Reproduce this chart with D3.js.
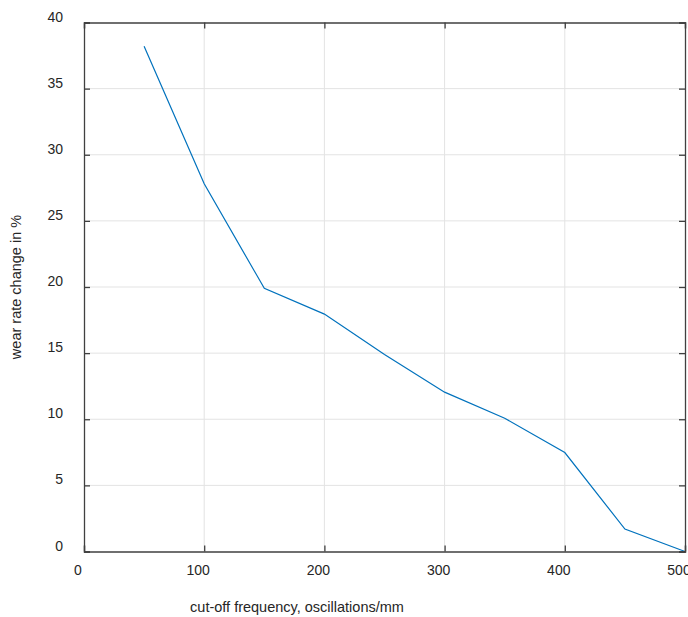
<!DOCTYPE html>
<html>
<head>
<meta charset="utf-8">
<script src="https://cdn.jsdelivr.net/npm/d3@7"></script>
<style>
  body { margin: 0; background: #fff; }
  text { font-family: "Liberation Sans", Arial, sans-serif; fill: #262626; }
</style>
</head>
<body>
<div class="graph"></div>
<script>
var width = 688,
    height = 617;

// data
var frequency = [50, 100, 150, 200, 250, 300, 350, 400, 450, 500];
var wearChange = [38.2, 27.8, 19.9, 17.95, 14.9, 12.05, 10.08, 7.48, 1.7, 0];
var xTicks = [0, 100, 200, 300, 400, 500];
var yTicks = [0, 5, 10, 15, 20, 25, 30, 35, 40];

var plotLeft = 84, plotRight = 685, plotTop = 22.5, plotBottom = 551.5;

var svg = d3.select(".graph").append("svg")
    .attr("width", width)
    .attr("height", height);

var x = d3.scaleLinear().domain([0, 500]).range([plotLeft, plotRight]);
var y = d3.scaleLinear().domain([0, 40]).range([plotBottom, plotTop]);

// grid
svg.append("g").selectAll("line")
    .data(xTicks.slice(1, -1))
    .enter().append("line")
      .attr("x1", function(d) { return x(d); })
      .attr("x2", function(d) { return x(d); })
      .attr("y1", plotTop).attr("y2", plotBottom)
      .attr("stroke", "#e3e3e3").attr("stroke-width", 1);

svg.append("g").selectAll("line")
    .data(yTicks.slice(1, -1))
    .enter().append("line")
      .attr("y1", function(d) { return y(d); })
      .attr("y2", function(d) { return y(d); })
      .attr("x1", plotLeft).attr("x2", plotRight)
      .attr("stroke", "#e3e3e3").attr("stroke-width", 1);

// the line
var line = d3.line()
    .x(function(d, i) { return x(frequency[i]); })
    .y(function(d) { return y(d); });

svg.append("path")
    .datum(wearChange)
    .attr("fill", "none")
    .attr("stroke", "#0072BD")
    .attr("stroke-width", 1.2)
    .attr("d", line);

// axes (ticks inside, box on)
var xAxisB = d3.axisBottom(x).tickValues(xTicks).tickSize(-6).tickFormat("");
var xAxisT = d3.axisTop(x).tickValues(xTicks).tickSize(-6).tickFormat("");
var yAxisL = d3.axisLeft(y).tickValues(yTicks).tickSize(-6).tickFormat("");
var yAxisR = d3.axisRight(y).tickValues(yTicks).tickSize(-6).tickFormat("");

function styleAxis(g) {
  g.selectAll("path").attr("stroke", "#404040").attr("stroke-width", 1.3);
  g.selectAll("line").attr("stroke", "#404040").attr("stroke-width", 1.3);
}

svg.append("g").attr("transform", "translate(0," + plotBottom + ")").call(xAxisB).call(styleAxis);
svg.append("g").attr("transform", "translate(0," + plotTop + ")").call(xAxisT).call(styleAxis);
svg.append("g").attr("transform", "translate(" + plotLeft + ",0)").call(yAxisL).call(styleAxis);
svg.append("g").attr("transform", "translate(" + plotRight + ",0)").call(yAxisR).call(styleAxis);

// tick labels
svg.append("g").selectAll("text")
    .data(xTicks)
    .enter().append("text")
      .attr("x", function(d) { return x(d) - 6; })
      .attr("y", 575)
      .attr("text-anchor", "middle")
      .style("font-size", "14px")
      .text(function(d) { return d; });

svg.append("g").selectAll("text")
    .data(yTicks)
    .enter().append("text")
      .attr("x", 63)
      .attr("y", function(d) { return y(d) - 1; })
      .attr("text-anchor", "end")
      .style("font-size", "14px")
      .text(function(d) { return d; });

// axis titles
svg.append("text")
    .attr("x", 297)
    .attr("y", 612)
    .attr("text-anchor", "middle")
    .style("font-size", "14.5px")
    .text("cut-off frequency, oscillations/mm");

svg.append("text")
    .attr("transform", "translate(21,287) rotate(-90)")
    .attr("text-anchor", "middle")
    .style("font-size", "14.5px")
    .text("wear rate change in %");
</script>
</body>
</html>
